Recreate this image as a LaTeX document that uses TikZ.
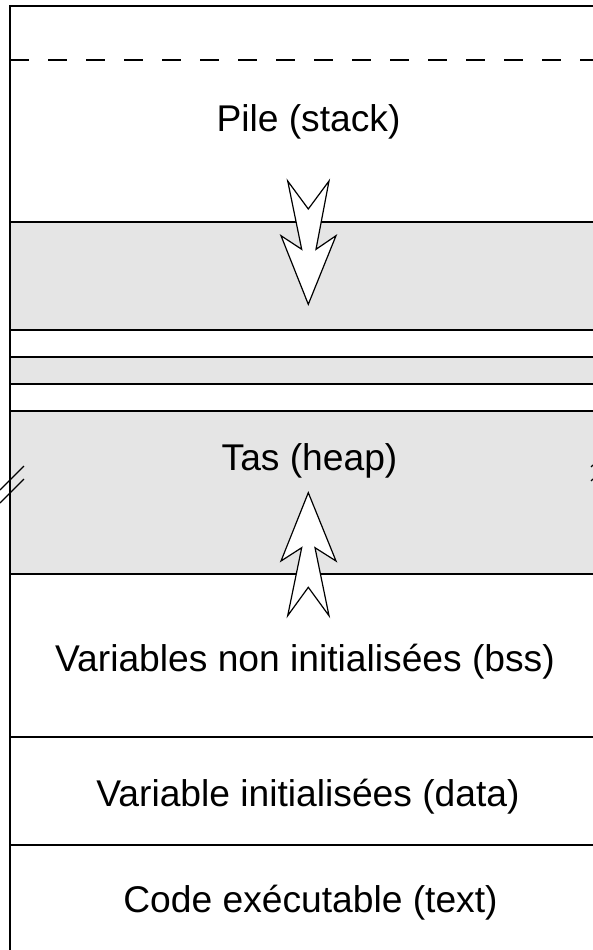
\documentclass[tikz,border=0pt]{standalone}
\usepackage{fontspec}
\setmainfont{Liberation Sans}
\begin{document}
\begin{tikzpicture}[x=1pt,y=-1pt,
  seg/.style={draw=black,line width=1.2pt},
  band/.style={fill=black!10,draw=none},
  lbl/.style={anchor=base,inner sep=0pt,font=\fontsize{37.2}{44}\selectfont},
  fleche/.style={draw=black,fill=white,line width=1.2pt,line join=miter}]
\useasboundingbox (0,0) rectangle (593,950);
% gray bands
\fill[band] (10,222) rectangle (593,330);
\fill[band] (10,357) rectangle (593,384);
\fill[band] (10,411) rectangle (593,574);
% frame
\draw[seg] (10,950) -- (10,6) -- (593,6);
% dashed line
\draw[seg,dash pattern=on 19pt off 19pt] (10,60) -- (593,60);
% separators
\foreach \y in {222,330,357,384,411,574,737,845}
  \draw[seg] (10,\y) -- (593,\y);
% break marks
\draw[line width=1.1pt] (0,490) -- (24,466);
\draw[line width=1.1pt] (0,503) -- (24,479);
\draw[line width=1.1pt] (591,467) -- (593,465);
\draw[line width=1.1pt] (591,481) -- (593,479);
% arrows
\draw[fleche] (287.7,181) -- (308.3,209) -- (329,181) -- (316,249.3) -- (336,235.7)
  -- (308.3,304.3) -- (281,235.7) -- (301.7,249.3) -- cycle;
\draw[fleche] (308.3,492.7) -- (336,561) -- (315,547.7) -- (329,615.7) -- (308.3,587.3)
  -- (287.7,615.7) -- (301.7,547.7) -- (281,561) -- cycle;
% labels
\node[lbl] (pile) at (308.5,131) {Pile (stack)};
\node[lbl] (tas) at (309.5,470) {Tas (heap)};
\node[lbl] (bss) at (305,671) {Variables non initialisées (bss)};
\node[lbl] (data) at (308,806) {Variable initialisées (data)};
\node[lbl] (text) at (310.5,912) {Code exécutable (text)};
\end{tikzpicture}
\end{document}
